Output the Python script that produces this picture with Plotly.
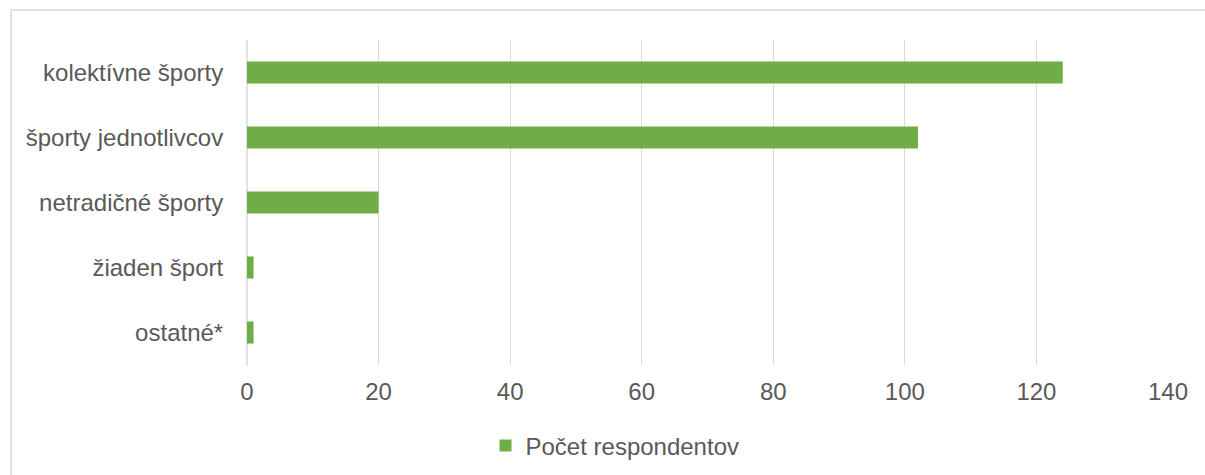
import plotly.graph_objects as go

categories = ["kolektívne športy", "športy jednotlivcov", "netradičné športy", "žiaden šport", "ostatné*"]
values = [124, 102, 20, 1, 1]
series_name = "Počet respondentov"
x_ticks = [0, 20, 40, 60, 80, 100, 120, 140]

W, H = 1205, 475
L, T = 247, 40
pw, ph = 921, 325
R, B = W - L - pw, H - T - ph

def px_x(p):
    return (p - L) / pw

def px_y(p):
    return (T + ph - p) / ph

fig = go.Figure()
fig.add_trace(go.Bar(
    y=categories, x=values, orientation="h", name=series_name,
    marker=dict(color="#70AD47", line=dict(width=0)),
    showlegend=True,
))

font = "Liberation Sans, Arial, sans-serif"
fig.update_layout(
    width=W, height=H,
    margin=dict(l=L, r=R, t=T, b=B, pad=0, autoexpand=False),
    paper_bgcolor="white", plot_bgcolor="white",
    font=dict(family=font, size=24, color="#595959"),
    bargap=0.66,
    showlegend=True,
    legend=dict(orientation="h", xref="container", x=615 / W, xanchor="center",
                yref="container", y=1 - 446 / H, yanchor="middle",
                font=dict(size=24, color="#595959"),
                itemwidth=30, bgcolor="rgba(0,0,0,0)"),
    xaxis=dict(range=[0, 140], tickvals=x_ticks, showgrid=True,
               gridcolor="#D9D9D9", gridwidth=1, zeroline=False,
               showline=False, ticks="outside", ticklen=5,
               tickcolor="rgba(0,0,0,0)", fixedrange=True),
    yaxis=dict(categoryorder="array", categoryarray=categories[::-1],
               showgrid=False, zeroline=False, showline=False,
               ticks="outside", ticklen=18, tickcolor="rgba(0,0,0,0)"),
    shapes=[
        dict(type="line", xref="paper", yref="paper", x0=0, x1=0, y0=0, y1=1,
             line=dict(color="#D9D9D9", width=1.5), layer="below"),
        dict(type="line", xref="paper", yref="paper",
             x0=px_x(11), x1=px_x(1300), y0=px_y(10), y1=px_y(10),
             line=dict(color="#D9D9D9", width=1.5)),
        dict(type="line", xref="paper", yref="paper",
             x0=px_x(11), x1=px_x(11), y0=px_y(10), y1=px_y(600),
             line=dict(color="#D9D9D9", width=1.5)),
    ],
)
fig.write_html(
    "out.html",
    config={"displayModeBar": False},
    post_script="document.body.style.margin='0';document.body.style.overflow='hidden';",
)
